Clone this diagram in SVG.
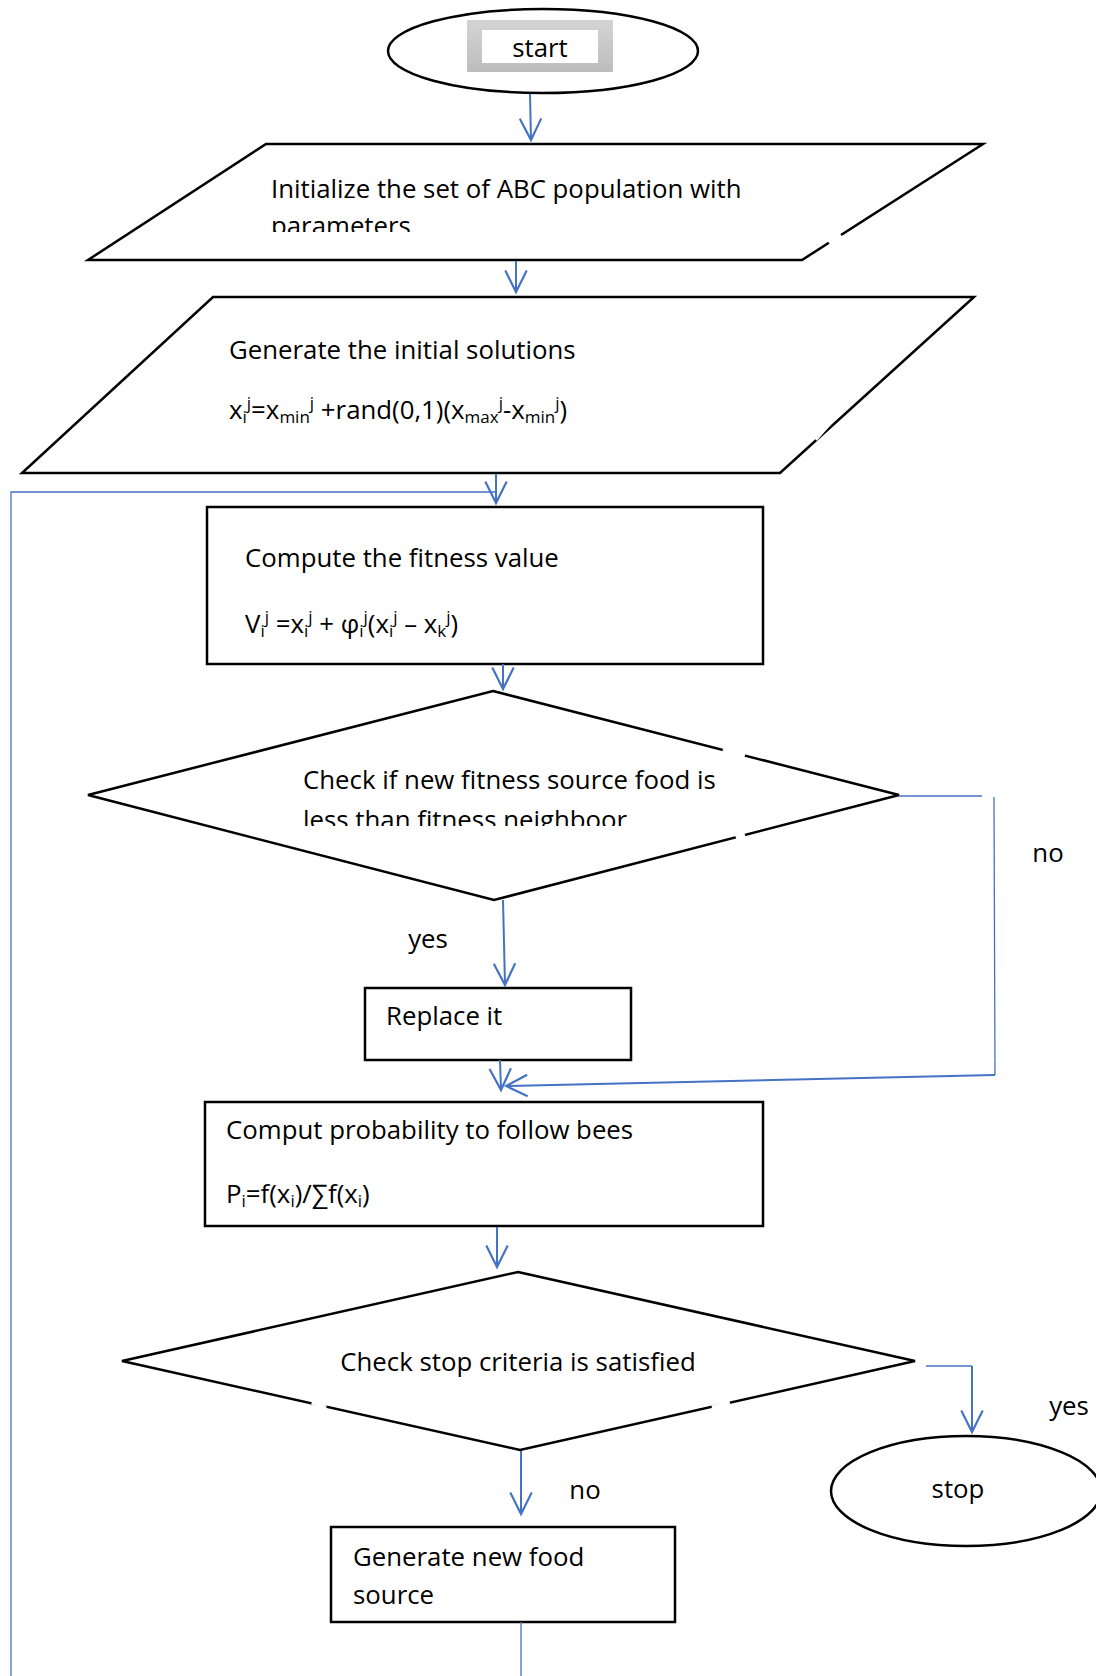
<svg xmlns="http://www.w3.org/2000/svg" width="1096" height="1676" viewBox="0 0 1096 1676">
<style>
  .shape{fill:#fff;stroke:#000;stroke-width:2.5}
  .t{font-family:"Open Sans","Liberation Sans",sans-serif;font-size:25.8px;fill:#000}
  .s{font-size:17px}
  .c{fill:none;stroke:#4472C4;stroke-width:2}
  .thin{fill:none;stroke:#4472C4;stroke-width:1.3}
  .gap{stroke:#fff;stroke-width:5}
</style>
<defs>
  <marker id="ah" markerUnits="userSpaceOnUse" markerWidth="30" markerHeight="30" refX="0" refY="0" viewBox="-24 -14 28 28" orient="auto" overflow="visible">
    <path d="M-20,-10 L0,0 L-20,10" fill="none" stroke="#4472C4" stroke-width="2"/>
  </marker>
  <linearGradient id="gb" x1="0" y1="0" x2="0" y2="1">
    <stop offset="0" stop-color="#d4d4d4"/>
    <stop offset="1" stop-color="#bdbdbd"/>
  </linearGradient>
  <clipPath id="clipP"><rect x="0" y="0" width="1096" height="232"/></clipPath>
  <clipPath id="clipD"><rect x="0" y="0" width="1096" height="826"/></clipPath>
</defs>

<g id="start">
  <ellipse class="shape" cx="543" cy="51" rx="155" ry="42"/>
  <rect x="467" y="20" width="146" height="52" fill="url(#gb)"/>
  <rect x="482" y="30" width="116" height="33" fill="#fff"/>
  <text class="t" x="540" y="57" text-anchor="middle">start</text>
</g>

<g id="init">
  <polygon class="shape" points="266,144 983,144 802,260 88,260"/>
  <line class="gap" x1="829" y1="243" x2="841" y2="235"/>
  <text class="t" x="271" y="198">Initialize the set of ABC population with</text>
  <text class="t" x="271" y="235" clip-path="url(#clipP)">parameters</text>
</g>

<g id="generate">
  <polygon class="shape" points="213,297 974,297 780,473 22,473"/>
  <line class="gap" x1="815" y1="439" x2="829" y2="423"/>
  <text class="t" x="229" y="359">Generate the initial solutions</text>
  <text class="t" x="229" y="419">x<tspan class="s" baseline-shift="-4">i</tspan><tspan class="s" baseline-shift="10">j</tspan>=x<tspan class="s" baseline-shift="-4">min</tspan><tspan class="s" baseline-shift="10">j</tspan> +rand(0,1)(x<tspan class="s" baseline-shift="-4">max</tspan><tspan class="s" baseline-shift="10">j</tspan>-x<tspan class="s" baseline-shift="-4">min</tspan><tspan class="s" baseline-shift="10">j</tspan>)</text>
</g>

<g id="fitness">
  <rect class="shape" x="207" y="507" width="556" height="157"/>
  <text class="t" x="245" y="567">Compute the fitness value</text>
  <text class="t" x="245" y="633">V<tspan class="s" baseline-shift="-4">i</tspan><tspan class="s" baseline-shift="10">j</tspan> =x<tspan class="s" baseline-shift="-4">i</tspan><tspan class="s" baseline-shift="10">j</tspan> + φ<tspan class="s" baseline-shift="-4">i</tspan><tspan class="s" baseline-shift="10">j</tspan>(x<tspan class="s" baseline-shift="-4">i</tspan><tspan class="s" baseline-shift="10">j</tspan> – x<tspan class="s" baseline-shift="-4">k</tspan><tspan class="s" baseline-shift="10">j</tspan>)</text>
</g>

<g id="check1">
  <polygon class="shape" points="493,691 899,795 494,900 88,795"/>
  <line class="gap" x1="723" y1="749" x2="745" y2="755"/>
  <line class="gap" x1="736" y1="838" x2="745" y2="835"/>
  <text class="t" x="303" y="789">Check if new fitness source food is</text>
  <text class="t" x="303" y="829" clip-path="url(#clipD)">less than fitness neighboor</text>
</g>

<g id="replace">
  <rect class="shape" x="365" y="988" width="266" height="72"/>
  <text class="t" x="386" y="1025">Replace it</text>
</g>

<g id="probability">
  <rect class="shape" x="205" y="1102" width="558" height="124"/>
  <text class="t" x="226" y="1139">Comput probability to follow bees</text>
  <text class="t" x="226" y="1203">P<tspan class="s" baseline-shift="-4">i</tspan>=f(x<tspan class="s" baseline-shift="-4">i</tspan>)/∑f(x<tspan class="s" baseline-shift="-4">i</tspan>)</text>
</g>

<g id="check2">
  <polygon class="shape" points="518,1272 915,1361 520,1450 122,1361"/>
  <line class="gap" x1="312" y1="1402" x2="326" y2="1408"/>
  <line class="gap" x1="712" y1="1408" x2="730" y2="1403"/>
  <text class="t" x="518" y="1371" text-anchor="middle">Check stop criteria is satisfied</text>
</g>

<g id="stop">
  <ellipse class="shape" cx="966" cy="1491" rx="135" ry="55"/>
  <text class="t" x="958" y="1498" text-anchor="middle">stop</text>
</g>

<g id="newfood">
  <rect class="shape" x="331" y="1527" width="344" height="95"/>
  <text class="t" x="353" y="1566">Generate new food</text>
  <text class="t" x="353" y="1604">source</text>
</g>

<g id="connectors">
  <path class="c" d="M530,94 L531,140" marker-end="url(#ah)"/>
  <path class="c" d="M516,261 L516,292" marker-end="url(#ah)"/>
  <path class="c" d="M496,474 L496,503" marker-end="url(#ah)"/>
  <path class="c" d="M503,664 L503,689" marker-end="url(#ah)"/>
  <path class="c" d="M503,900 L505,985" marker-end="url(#ah)"/>
  <path class="c" d="M500,1060 L501,1090" marker-end="url(#ah)"/>
  <path class="thin" d="M899,796 L982,796"/>
  <path class="thin" d="M994,797 L995,1075"/>
  <path class="c" d="M995,1075 L506,1086" marker-end="url(#ah)"/>
  <path class="c" d="M497,1227 L497,1267" marker-end="url(#ah)"/>
  <path class="thin" d="M926,1366 L972,1366"/>
  <path class="c" d="M972,1366 L972,1432" marker-end="url(#ah)"/>
  <path class="c" d="M521,1451 L521,1514" marker-end="url(#ah)"/>
  <path class="thin" d="M521,1622 L521,1676"/>
  <path class="thin" d="M11,1676 L11,492 L496,492"/>
  <text class="t" x="428" y="948" text-anchor="middle">yes</text>
  <text class="t" x="1048" y="862" text-anchor="middle">no</text>
  <text class="t" x="1069" y="1415" text-anchor="middle">yes</text>
  <text class="t" x="585" y="1499" text-anchor="middle">no</text>
</g>
</svg>
